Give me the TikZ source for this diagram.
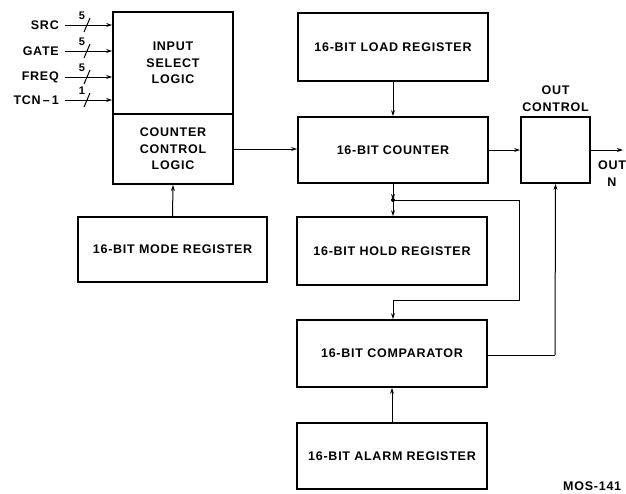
\documentclass[tikz,border=0pt]{standalone}
\usepackage{fontspec}
\setmainfont{Liberation Sans}[LetterSpace=6]
\usetikzlibrary{arrows.meta}
\tikzset{
  box/.style={draw, line width=1.8pt, inner sep=0pt, align=center,
    font=\bfseries\fontsize{12.5}{16.5}\selectfont},
  lbl/.style={inner sep=0pt, align=center, font=\bfseries\fontsize{12.5}{17}\selectfont},
  small/.style={inner sep=0pt, font=\bfseries\fontsize{11}{12}\selectfont},
  conn/.style={line width=1pt, -{Stealth[length=6pt,width=4pt]}},
  wire/.style={line width=1pt},
}
\begin{document}
\begin{tikzpicture}[x=1pt,y=-1pt]
\useasboundingbox (0,0) rectangle (626,493);
% blocks
\node[box, minimum width=120pt, minimum height=102pt] (isl) at (173,63) {INPUT\\SELECT\\LOGIC};
\node[box, minimum width=120pt, minimum height=70pt] (ccl) at (173,149) {COUNTER\\CONTROL\\LOGIC};
\node[box, minimum width=189pt, minimum height=65pt] (mode) at (172.5,249.5) {16-BIT MODE REGISTER};
\node[box, minimum width=190pt, minimum height=68pt] (load) at (393,47) {16-BIT LOAD REGISTER};
\node[box, minimum width=190pt, minimum height=66pt] (ctr) at (393,150) {16-BIT COUNTER};
\node[box, minimum width=69pt, minimum height=66pt] (oc) at (555.5,150) {};
\node[box, minimum width=190pt, minimum height=68pt] (hold) at (392,251) {16-BIT HOLD REGISTER};
\node[box, minimum width=190pt, minimum height=67pt] (cmp) at (392,353.5) {16-BIT COMPARATOR};
\node[box, minimum width=190pt, minimum height=66pt] (alarm) at (392,456) {16-BIT ALARM REGISTER};
% labels
\node[lbl, anchor=south] (octl) at (555.5,112) {OUT\\CONTROL};
\node[lbl] (outn) at (612,174) {OUT\\N};
\node[lbl, anchor=west] (mos) at (563,486) {MOS-141};
% inputs
\foreach \n/\t/\w/\yy in {a/SRC/5/25, b/GATE/5/51, c/FREQ/5/77, d/TCN\,--\,1/1/100}{
  \node[lbl, anchor=east] (in\n) at (59,\yy) {\t};
  \coordinate (s\n) at (65,\yy);
  \draw[conn] (s\n) -- (s\n -| isl.west);
  \draw[wire] ([xshift=19pt,yshift=-7pt]s\n) -- ([xshift=25pt,yshift=7pt]s\n);
  \node[small] (w\n) at ([xshift=17pt,yshift=9pt]s\n) {\w};
}
% connectors
\draw[conn] (mode.north) -- (ccl.south);
\draw[conn] (ccl.east) -- (ccl.east -| ctr.west);
\draw[conn] (load.south) -- (ctr.north);
\draw[conn] (ctr.east) -- (oc.west);
\coordinate (out) at (623,150);
\draw[conn] (oc.east) -- (out);
\coordinate (j) at (393,200);
\fill (j) circle (2pt);
\draw[conn] (ctr.south) -- (j);
\draw[conn] (j) -- (j |- hold.north);
\coordinate (r1) at (519,200);
\coordinate (r2) at (519,300);
\coordinate (r3) at (393,300);
\draw[wire] (j) -- (r1) -- (r2) -- (r3);
\draw[conn] (r3) -- (r3 |- cmp.north);
\draw[conn] (alarm.north) -- (alarm.north |- cmp.south);
\coordinate (c1) at (555,355);
\draw[wire] (cmp.east |- c1) -- (c1);
\draw[conn] (c1) -- (oc.south);
\end{tikzpicture}
\end{document}
